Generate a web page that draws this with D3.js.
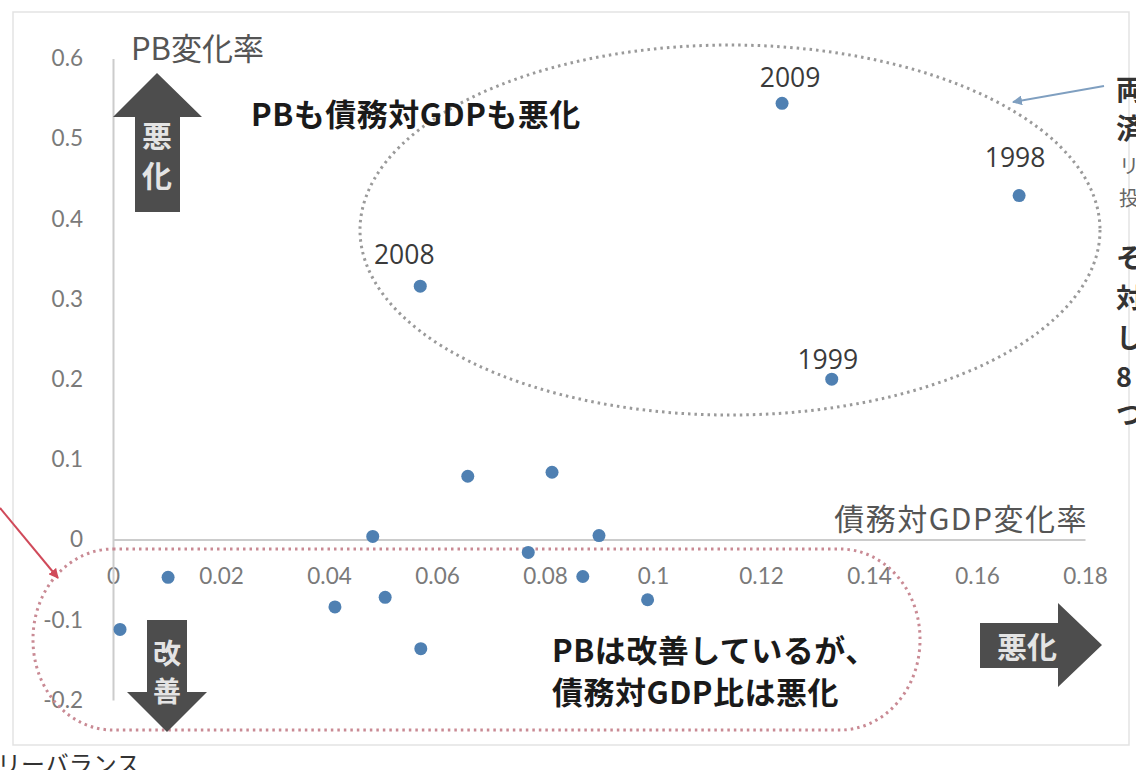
<!DOCTYPE html>
<html>
<head>
<meta charset="utf-8">
<script src="https://cdn.jsdelivr.net/npm/d3@7"></script>
<style>
  body { margin: 0; background: #fff; }
  svg { display: block; }
</style>
</head>
<body>
<svg id="chart" width="1136" height="770"></svg>
<script>
// Change in debt-to-GDP ratio (x) and change in primary balance (y), one entry per year
const debtChange = [0.1239, 0.1678, 0.0569, 0.1331, 0.0657, 0.0813, 0.0481, 0.0900, 0.0769, 0.0870, 0.0102, 0.0411, 0.0504, 0.0013, 0.0570, 0.0990];
const pbChange   = [0.544, 0.429, 0.316, 0.200, 0.079, 0.084, 0.004, 0.005, -0.016, -0.046, -0.047, -0.084, -0.072, -0.112, -0.136, -0.075];
const pointLabels = ["2009", "1998", "2008", "1999", "", "", "", "", "", "", "", "", "", "", "", ""];

const xTicks = [0, 0.02, 0.04, 0.06, 0.08, 0.1, 0.12, 0.14, 0.16, 0.18];
const xTickLabels = ["0", "0.02", "0.04", "0.06", "0.08", "0.1", "0.12", "0.14", "0.16", "0.18"];
const yTicks = [-0.2, -0.1, 0, 0.1, 0.2, 0.3, 0.4, 0.5, 0.6];
const yTickLabels = ["-0.2", "-0.1", "0", "0.1", "0.2", "0.3", "0.4", "0.5", "0.6"];

// Hand-placed offsets for the year labels (pixels, relative to the point)
const labelNudge = { "2009": [8, -26], "1998": [-4, -39], "2008": [-16, -32], "1999": [-4, -20] };

const JP = "'Noto Sans CJK JP', 'Noto Sans', sans-serif";
const svg = d3.select("#chart");

const x = d3.scaleLinear().domain([0, 0.18]).range([113, 1085]);
const y = d3.scaleLinear().domain([-0.2, 0.6]).range([700, 58.4]);

// outer frame
svg.append("rect")
  .attr("x", 13).attr("y", 12).attr("width", 1116).attr("height", 733)
  .attr("fill", "none").attr("stroke", "#e3e3e3").attr("stroke-width", 1.5);

// axes crossing at the origin
const xAxis = d3.axisBottom(x).tickValues(xTicks)
  .tickFormat((d, i) => xTickLabels[i]).tickSize(0).tickPadding(28);
const yAxis = d3.axisLeft(y).tickValues(yTicks)
  .tickFormat((d, i) => yTickLabels[i]).tickSize(0).tickPadding(30);

const gx = svg.append("g").attr("transform", `translate(0,${y(0)})`).call(xAxis);
const gy = svg.append("g").attr("transform", `translate(${x(0)},0)`).call(yAxis);
[gx, gy].forEach(g => {
  g.select(".domain").attr("stroke", "#cccccc").attr("stroke-width", 2);
  g.selectAll("text").attr("fill", "#7a7a7a")
    .style("font-family", "Lato, 'Liberation Sans', sans-serif").style("font-size", "22.5px");
});

// axis titles
svg.append("text").attr("x", 131).attr("y", 60)
  .style("font-family", JP).style("font-size", "31px").attr("fill", "#555")
  .text("PB変化率");
svg.append("text").attr("x", 1088).attr("y", 530).attr("text-anchor", "end")
  .style("font-family", JP).style("font-size", "30px").style("letter-spacing", "1.5px")
  .attr("fill", "#555")
  .text("債務対GDP変化率");

// grouping outlines
svg.append("ellipse")
  .attr("cx", 730).attr("cy", 230).attr("rx", 370).attr("ry", 185)
  .attr("fill", "none").attr("stroke", "#9a9a9a").attr("stroke-width", 3)
  .attr("stroke-dasharray", "2.5,4");
svg.append("rect")
  .attr("x", 33).attr("y", 549).attr("width", 887).attr("height", 181)
  .attr("rx", 80).attr("ry", 90)
  .attr("fill", "none").attr("stroke", "#c98a94").attr("stroke-width", 3)
  .attr("stroke-dasharray", "2.5,4");

// callout arrows
const defs = svg.append("defs");
function marker(id, color) {
  defs.append("marker").attr("id", id)
    .attr("viewBox", "0 0 10 10").attr("refX", 9).attr("refY", 5)
    .attr("markerWidth", 5).attr("markerHeight", 5).attr("orient", "auto")
    .append("path").attr("d", "M0,0 L10,5 L0,10 Z").attr("fill", color);
}
marker("headRed", "#d04a5a");
marker("headBlue", "#7f9fc0");
svg.append("line").attr("x1", 0).attr("y1", 508).attr("x2", 58).attr("y2", 578)
  .attr("stroke", "#d04a5a").attr("stroke-width", 2).attr("marker-end", "url(#headRed)");
svg.append("line").attr("x1", 1104).attr("y1", 86).attr("x2", 1013).attr("y2", 102)
  .attr("stroke", "#7f9fc0").attr("stroke-width", 2).attr("marker-end", "url(#headBlue)");

// block arrows
const arrowFill = "#4d4d4d";
svg.append("polygon")
  .attr("points", "157,73 202,117 180,117 180,212 135,212 135,117 113,117")
  .attr("fill", arrowFill);
svg.append("polygon")
  .attr("points", "147,620 187,620 187,692 207,692 167,732 127,692 147,692")
  .attr("fill", arrowFill);
svg.append("polygon")
  .attr("points", "980,623 1058,623 1058,603 1102,645 1058,687 1058,668 980,668")
  .attr("fill", arrowFill);

function arrowText(tx, ty, s, size) {
  svg.append("text").attr("x", tx).attr("y", ty).attr("text-anchor", "middle")
    .attr("dominant-baseline", "central")
    .style("font-family", JP).style("font-size", size + "px").style("font-weight", 700)
    .attr("fill", "#e4e4e4").text(s);
}
arrowText(157, 134, "悪", 30);
arrowText(157, 174, "化", 30);
arrowText(167, 652, "改", 28);
arrowText(167, 690, "善", 28);
arrowText(1027, 645, "悪化", 30);

// region captions
function caption(tx, ty, s, size) {
  svg.append("text").attr("x", tx).attr("y", ty)
    .attr("dominant-baseline", "central")
    .style("font-family", JP).style("font-size", size + "px").style("font-weight", 700)
    .style("letter-spacing", "0.5px")
    .attr("fill", "#1a1a1a").text(s);
}
caption(251, 112, "PBも債務対GDPも悪化", 31);
caption(552, 648, "PBは改善しているが、", 31);
caption(552, 690, "債務対GDP比は悪化", 31);

// data points
const pts = debtChange.map((d, i) => ({ x: d, y: pbChange[i], label: pointLabels[i] }));
svg.append("g").selectAll("circle").data(pts).join("circle")
  .attr("cx", d => x(d.x)).attr("cy", d => y(d.y)).attr("r", 6.5)
  .attr("fill", "#4f80b2");

svg.append("g").selectAll("text").data(pts.filter(d => d.label)).join("text")
  .attr("x", d => x(d.x) + labelNudge[d.label][0])
  .attr("y", d => y(d.y) + labelNudge[d.label][1])
  .attr("text-anchor", "middle").attr("dominant-baseline", "central")
  .style("font-family", "'Open Sans', sans-serif").style("font-size", "26.5px")
  .attr("fill", "#3a3a3a").text(d => d.label);

// side notes running past the right edge
const sideNotes = [
  { s: "両", y: 88, size: 28, w: 700, c: "#333" },
  { s: "済", y: 127, size: 28, w: 700, c: "#333" },
  { s: "リ", y: 165, size: 20, w: 400, c: "#666" },
  { s: "投", y: 197, size: 20, w: 400, c: "#666" },
  { s: "そ", y: 256, size: 27, w: 700, c: "#333" },
  { s: "対", y: 296, size: 27, w: 700, c: "#333" },
  { s: "し", y: 336, size: 27, w: 700, c: "#333" },
  { s: "8", y: 375, size: 27, w: 700, c: "#333" },
  { s: "つ", y: 413, size: 27, w: 700, c: "#333" }
];
svg.append("g").selectAll("text").data(sideNotes).join("text")
  .attr("x", d => d.size > 24 ? 1116 : 1119).attr("y", d => d.y)
  .attr("dominant-baseline", "central")
  .style("font-family", JP).style("font-size", d => d.size + "px").style("font-weight", d => d.w)
  .attr("fill", d => d.c).text(d => d.s);

// caption continuing below the frame
svg.append("text").attr("x", -3).attr("y", 773)
  .style("font-family", JP).style("font-size", "24px").attr("fill", "#333")
  .text("リーバランス");
</script>
</body>
</html>
